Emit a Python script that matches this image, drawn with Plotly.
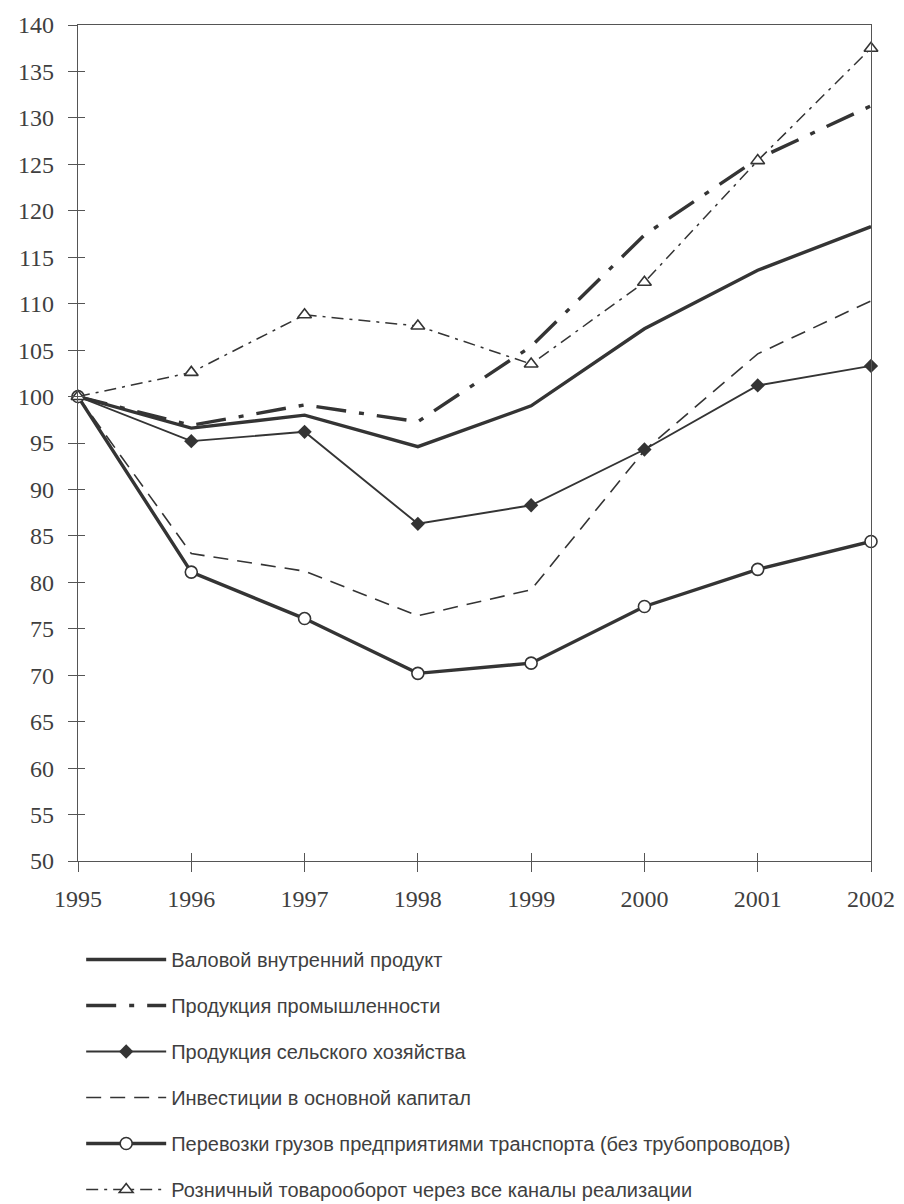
import plotly.graph_objects as go

years = [1995, 1996, 1997, 1998, 1999, 2000, 2001, 2002]
gdp = [100, 96.6, 98.0, 94.6, 99.0, 107.3, 113.6, 118.3]
industry = [100, 96.9, 99.1, 97.3, 105.4, 117.4, 125.6, 131.3]
agriculture = [100, 95.2, 96.2, 86.3, 88.3, 94.3, 101.2, 103.3]
investment = [100, 83.1, 81.2, 76.4, 79.2, 94.2, 104.6, 110.3]
transport = [100, 81.1, 76.1, 70.2, 71.3, 77.4, 81.4, 84.4]
retail = [100, 102.6, 108.8, 107.6, 103.5, 112.3, 125.4, 137.5]

names = [
    "Валовой внутренний продукт",
    "Продукция промышленности",
    "Продукция сельского хозяйства",
    "Инвестиции в основной капитал",
    "Перевозки грузов предприятиями транспорта (без трубопроводов)",
    "Розничный товарооборот через все каналы реализации",
]
y_ticks = list(range(50, 141, 5))

INK = "#343434"
TXT = "#3f3f3f"

fig = go.Figure()

fig.add_trace(go.Scatter(x=years, y=gdp, name=names[0], mode="lines",
                         line=dict(color=INK, width=3.4), legendgroup="a",
                         cliponaxis=False))
fig.add_trace(go.Scatter(x=years, y=industry, name=names[1], mode="lines",
                         line=dict(color=INK, width=3.4, dash="30px,13px,5px,13px"),
                         legendgroup="b", cliponaxis=False))
fig.add_trace(go.Scatter(x=years, y=agriculture, name=names[2], mode="lines+markers",
                         line=dict(color=INK, width=1.9),
                         marker=dict(symbol="diamond", size=11, color=INK),
                         legendgroup="c", cliponaxis=False))
fig.add_trace(go.Scatter(x=years, y=investment, name=names[3], mode="lines",
                         line=dict(color=INK, width=1.6, dash="15px,9px"),
                         legendgroup="d", cliponaxis=False))
fig.add_trace(go.Scatter(x=years, y=transport, name=names[4], mode="lines+markers",
                         line=dict(color=INK, width=3.4),
                         marker=dict(symbol="circle", size=12, color="white",
                                     line=dict(color=INK, width=1.6)),
                         legendgroup="e", cliponaxis=False))
fig.add_trace(go.Scatter(x=years, y=retail, name=names[5], mode="lines+markers",
                         line=dict(color=INK, width=1.5, dash="12px,6px,3px,6px"),
                         marker=dict(symbol="triangle-up", size=12, color="white",
                                     line=dict(color=INK, width=1.6)),
                         legendgroup="f", cliponaxis=False))

# overlay axes for the inner half of the crossing ticks
fig.add_trace(go.Scatter(x=[], y=[], xaxis="x2", yaxis="y2", showlegend=False))

tickfont = dict(family="Liberation Serif", size=24, color=TXT)

# the page body has an 8px margin, so the figure is sized to fit the window
fig.update_layout(
    width=896, height=1196,
    paper_bgcolor="white", plot_bgcolor="white",
    margin=dict(l=70, r=33, t=17, b=343, autoexpand=False),
    xaxis=dict(range=[1995, 2002], tickvals=years, ticktext=[str(y) for y in years],
               showgrid=False, zeroline=False, showline=True, linecolor="#555",
               linewidth=1.2, mirror=True, ticks="outside", ticklen=10,
               tickcolor="#555", tickwidth=1.2, tickfont=tickfont,
               ticklabelstandoff=6, automargin=False),
    yaxis=dict(range=[50, 140], tickvals=y_ticks, showgrid=False, zeroline=False,
               showline=True, linecolor="#555", linewidth=1.2, mirror=True,
               ticks="outside", ticklen=9, tickcolor="#555", tickwidth=1.2,
               tickfont=tickfont, ticklabelstandoff=9, automargin=False),
    xaxis2=dict(range=[1995, 2002], tickvals=years, overlaying="x", anchor="y2",
                showgrid=False, zeroline=False, showline=False, ticks="inside",
                ticklen=8, tickcolor="#555", tickwidth=1.2, showticklabels=False),
    yaxis2=dict(range=[50, 140], tickvals=y_ticks, overlaying="y", anchor="x2",
                showgrid=False, zeroline=False, showline=False, ticks="inside",
                ticklen=7, tickcolor="#555", tickwidth=1.2, showticklabels=False),
    legend=dict(x=0.004, xanchor="left", y=-0.0945, yanchor="top",
                orientation="v", tracegroupgap=17, itemwidth=80,
                font=dict(family="Liberation Sans", size=20, color=TXT),
                bgcolor="rgba(0,0,0,0)"),
    showlegend=True,
)

fig.write_html("out.html")
